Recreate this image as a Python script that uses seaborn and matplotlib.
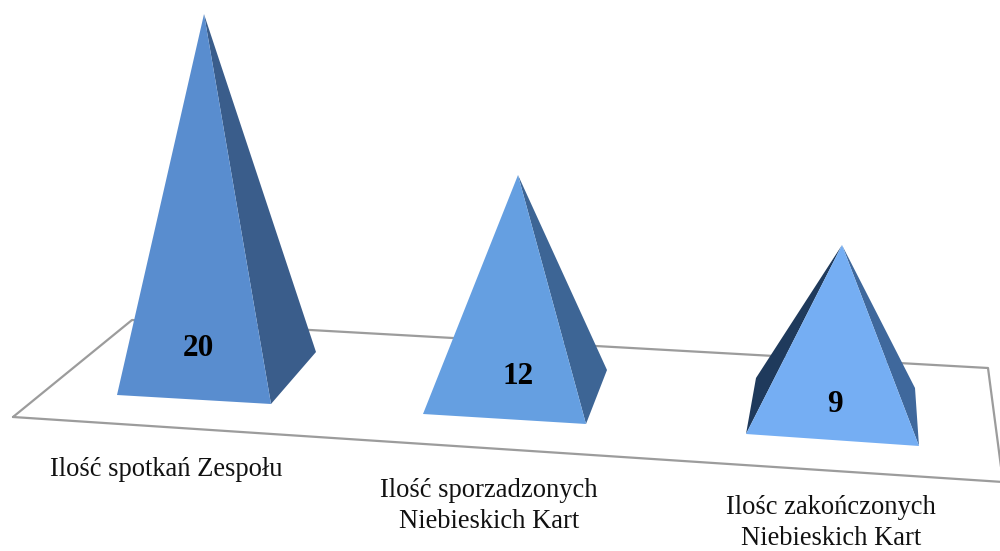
import pandas as pd
import seaborn as sns
import matplotlib.pyplot as plt

# values
categories = ['Ilość spotkań Zespołu', 'Ilość sporzadzonych\nNiebieskich Kart', 'Ilośc zakończonych\nNiebieskich Kart']
values = [20, 12, 9]

# layout in image pixels, y pointing down
front_left = [(117, 395), (423, 414), (746, 434)]
front_right = [(271, 404), (586, 424), (919, 446)]
back_right = [(316, 352), (607, 370), (915, 388)]
back_left = [None, None, (756, 378)]
apex_shift = [-12.5, 3, 11.5]
px_per_unit = [17.97, 18.08, 18.44]
value_pos = [(198, 349), (518, 377), (835, 405)]
label_pos = [(166, 470), (489, 506), (831, 523)]

front_colors = ['#598dcf', '#659fe1', '#75aef3']
right_colors = ['#3a5d8b', '#3d6595', '#3f689c']
left_color = '#1f3a5c'

floor_x = [13, 132, 988, 1003, 13]
floor_y = [417, 320, 368, 482, 417]

sns.set_theme(style='white')
plt.rcParams['font.family'] = ['Liberation Serif', 'DejaVu Serif']

fig, ax = plt.subplots(figsize=(10, 5.51), dpi=100)
fig.subplots_adjust(left=0, right=1, top=1, bottom=0)

floor = pd.DataFrame({'x': floor_x, 'y': floor_y})
sns.lineplot(data=floor, x='x', y='y', sort=False, estimator=None, color='#9c9c9c', lw=1.6, ax=ax)

for i, val in enumerate(values):
    fl, fr, br = front_left[i], front_right[i], back_right[i]
    # apex sits above the middle of the base, height comes from the value
    cx = (fl[0] + br[0]) / 2
    cy = (fl[1] + br[1]) / 2
    top = (cx + apex_shift[i], cy - val * px_per_unit[i])

    if back_left[i] is not None:
        bl = back_left[i]
        ax.fill([fl[0], bl[0], top[0]], [fl[1], bl[1], top[1]], color=left_color, lw=0, zorder=3)
    ax.fill([fr[0], br[0], top[0]], [fr[1], br[1], top[1]], color=right_colors[i], lw=0, zorder=3)
    ax.fill([fl[0], fr[0], top[0]], [fl[1], fr[1], top[1]], color=front_colors[i], lw=0, zorder=4)

    ax.text(value_pos[i][0], value_pos[i][1], str(val), fontsize=22.5, fontweight='bold',
            color='black', ha='center', va='center', zorder=5)
    ax.text(label_pos[i][0], label_pos[i][1], categories[i], fontsize=19.1, color='#111111',
            ha='center', va='center', linespacing=1.32, zorder=5)

ax.set_xlim(0, 1000)
ax.set_ylim(551, 0)
ax.axis('off')

plt.savefig('out.png', dpi=100)
